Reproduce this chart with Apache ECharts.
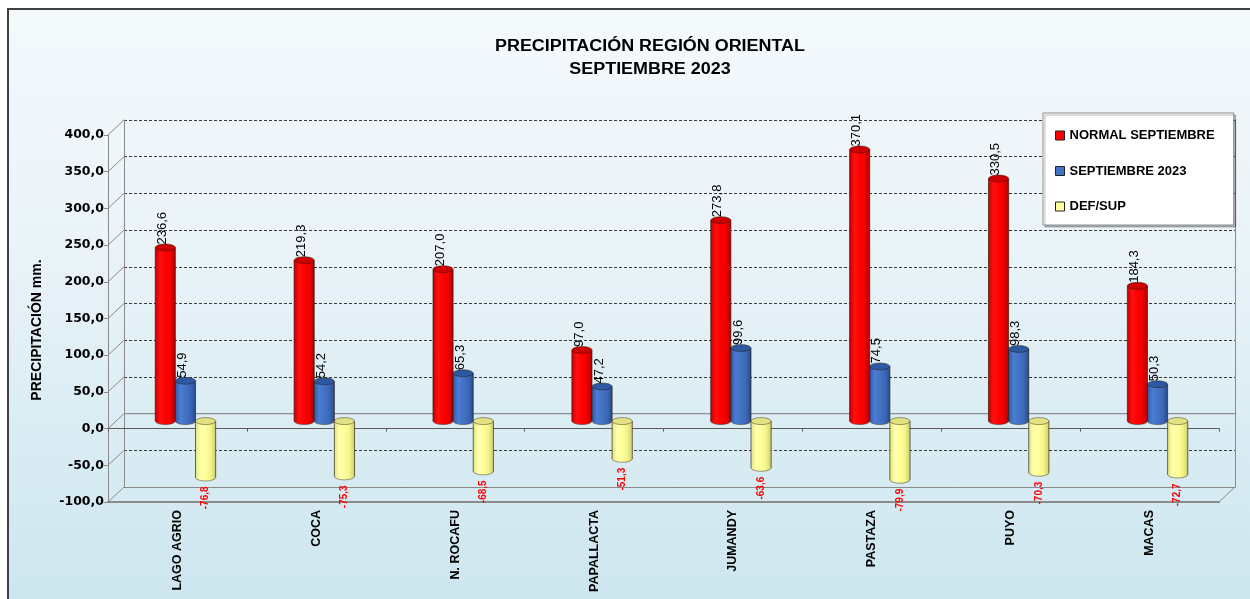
<!DOCTYPE html>
<html>
<head>
<meta charset="utf-8">
<title>Precipitación Región Oriental - Septiembre 2023</title>
<script src="https://cdn.jsdelivr.net/npm/echarts@6/dist/echarts.min.js"></script>
<style>
  html, body { margin: 0; padding: 0; background: #ffffff; overflow: hidden; }
  #panel {
    position: absolute; left: 7px; top: 8px; width: 1260px; height: 610px;
    border-left: 2px solid #404040; border-top: 2px solid #404040;
    background: linear-gradient(to bottom, #f4f9fc 0%, #e9f3f8 40%, #cbe5ee 100%);
  }
  #chart { position: absolute; left: 0; top: 0; width: 1250px; height: 599px; }
</style>
</head>
<body>
<div id="panel"></div>
<div id="chart"></div>
<script>
// ---- data ----
const categories = ['LAGO AGRIO', 'COCA', 'N. ROCAFU', 'PAPALLACTA', 'JUMANDY', 'PASTAZA', 'PUYO', 'MACAS'];
const normalSeptiembre = [236.6, 219.3, 207.0, 97.0, 273.8, 370.1, 330.5, 184.3];
const septiembre2023 = [54.9, 54.2, 65.3, 47.2, 99.6, 74.5, 98.3, 50.3];
const defSup = [-76.8, -75.3, -68.5, -51.3, -63.6, -79.9, -70.3, -72.7];
const seriesNames = ['NORMAL SEPTIEMBRE', 'SEPTIEMBRE 2023', 'DEF/SUP'];
const yMin = -100, yMax = 400, yStep = 50;
const titleLines = ['PRECIPITACIÓN REGIÓN ORIENTAL', 'SEPTIEMBRE 2023'];
const yAxisTitle = 'PRECIPITACIÓN mm.';

// ---- layout / style ----
const FONT = "'Liberation Sans', Arial, sans-serif";
const FRONT = { left: 108, top: 135, width: 1111, height: 367 };
const DEPTH = [16, -15];          // offset of the back wall relative to the front plane
const BAR_FRAC = 0.145;           // cylinder width as a fraction of the category band
const ELLIPSE_RY = 3.5;
const FRAME = '#8a8a8a';
const OUTLINE = 'rgba(40,20,0,0.8)';

function planeGrid(f) {
  return { left: FRONT.left + DEPTH[0] * f, top: FRONT.top + DEPTH[1] * f,
           width: FRONT.width, height: FRONT.height, containLabel: false };
}
const fmt = v => v.toFixed(1).replace('.', ',');
const ticks = [];
for (let v = yMin; v <= yMax; v += yStep) ticks.push(v);

const grad = stops => new echarts.graphic.LinearGradient(0, 0, 1, 0,
  stops.map((c, i) => ({ offset: i / (stops.length - 1), color: c })));

const palettes = [
  { legend: '#ff0000', body: ['#c80000', '#ff1010', '#ff0000', '#f00000', '#b00000'], top: '#cc0000',
    label: { color: '#000', font: `normal 13px ${FONT}` } },
  { legend: '#4472c4', body: ['#2f5ba8', '#4a7dd4', '#4472c4', '#3c68b6', '#284d90'], top: '#2d58a2',
    label: { color: '#000', font: `normal 13px ${FONT}` } },
  { legend: '#ffff99', body: ['#e4e47a', '#ffffb0', '#ffff99', '#f4f48c', '#cfcf6c'], top: '#e2e284',
    label: { color: '#ff0000', font: `bold 10px ${FONT}` } }
];

function cylinderSeries(idx, values) {
  const pal = palettes[idx];
  const k = idx - 1;
  return {
    type: 'custom',
    name: seriesNames[idx],
    xAxisIndex: 3, yAxisIndex: 3,
    z: 5,
    itemStyle: { color: pal.legend },
    data: values.map((v, i) => [i, v]),
    renderItem(params, api) {
      const i = api.value(0), v = api.value(1);
      const band = api.size([1, 0])[0];
      const w = band * BAR_FRAC, rx = w / 2, ry = ELLIPSE_RY;
      const base = api.coord([i, 0]);
      const tip = api.coord([i, v]);
      const cx = base[0] + k * w;
      const yTop = Math.min(base[1], tip[1]);
      const yBot = Math.max(base[1], tip[1]);
      const body = grad(pal.body);
      const lineStyle = { stroke: OUTLINE, lineWidth: 0.8 };
      const children = [
        { type: 'circle', shape: { cx: 0, cy: 0, r: rx }, x: cx, y: yBot, scaleY: ry / rx,
          style: { fill: body, stroke: OUTLINE, lineWidth: 0.8, strokeNoScale: true } },
        { type: 'rect', shape: { x: cx - rx, y: yTop, width: w, height: yBot - yTop }, style: { fill: body } },
        { type: 'line', shape: { x1: cx - rx, y1: yTop, x2: cx - rx, y2: yBot }, style: lineStyle },
        { type: 'line', shape: { x1: cx + rx, y1: yTop, x2: cx + rx, y2: yBot }, style: lineStyle },
        { type: 'circle', shape: { cx: 0, cy: 0, r: rx }, x: cx, y: yTop, scaleY: ry / rx,
          style: { fill: pal.top, stroke: OUTLINE, lineWidth: 0.8, strokeNoScale: true } }
      ];
      if (v >= 0) {
        children.push({ type: 'text', x: cx - 3, y: yTop - 3, rotation: Math.PI / 2,
          style: { text: fmt(v), font: pal.label.font, fill: pal.label.color,
                   align: 'left', verticalAlign: 'middle', textAlign: 'left', textVerticalAlign: 'middle' } });
      } else {
        children.push({ type: 'text', x: cx, y: yBot + 9, rotation: Math.PI / 2,
          style: { text: fmt(v), font: pal.label.font, fill: pal.label.color,
                   align: 'right', verticalAlign: 'middle', textAlign: 'right', textVerticalAlign: 'middle' } });
      }
      return { type: 'group', children };
    }
  };
}

// side wall edges, back zero plane and floor corner of the 3D box
const frameSeries = {
  type: 'custom',
  xAxisIndex: 0, yAxisIndex: 0,
  z: 1, silent: true,
  data: ticks.map(v => [0, v]),
  renderItem(params, api) {
    const cs = params.coordSys;
    const v = api.value(1);
    const y = api.coord([0, v])[1];
    const x0 = cs.x, x1 = cs.x + cs.width;
    const st = { stroke: FRAME, lineWidth: 1 };
    const ch = [{ type: 'line', shape: { x1: x0, y1: y, x2: x0 + DEPTH[0], y2: y + DEPTH[1] }, style: st }];
    if (v === 0) {
      ch.push({ type: 'line', shape: { x1: x0 + DEPTH[0], y1: y + DEPTH[1], x2: x1 + DEPTH[0], y2: y + DEPTH[1] },
                style: { stroke: '#8f8f8f', lineWidth: 1.2 } });
    }
    if (v === yMin) {
      ch.push({ type: 'line', shape: { x1: x1, y1: y, x2: x1 + DEPTH[0], y2: y + DEPTH[1] }, style: st });
    }
    return { type: 'group', children: ch };
  }
};

const valueAxisBase = { type: 'value', min: yMin, max: yMax, interval: yStep };

const option = {
  backgroundColor: 'transparent',
  animation: false,
  grid: [planeGrid(0), planeGrid(1), planeGrid(0.5)],
  graphic: [
    { type: 'text', x: 650, y: 58.5, scaleX: 1.12,
      style: { text: titleLines.join('\n'), font: `bold 16px ${FONT}`, fill: '#000', lineHeight: 23,
               align: 'center', verticalAlign: 'middle', textAlign: 'center', textVerticalAlign: 'middle',
               shadowColor: 'rgba(0,0,0,0.25)', shadowOffsetX: 1, shadowOffsetY: 1, shadowBlur: 1 } },
    { type: 'text', x: 37, y: 330, rotation: Math.PI / 2,
      style: { text: yAxisTitle, font: `bold 14px ${FONT}`, fill: '#000',
               align: 'center', verticalAlign: 'middle', textAlign: 'center', textVerticalAlign: 'middle' } }
  ],
  legend: {
    data: seriesNames, orient: 'vertical', left: 1043, top: 113,
    icon: 'rect', itemWidth: 9, itemHeight: 9, itemGap: 22.5,
    padding: [16, 19, 12, 12], backgroundColor: '#ffffff',
    borderColor: '#8c8c8c', borderWidth: 1,
    shadowColor: 'rgba(0,0,0,0.25)', shadowOffsetX: 2, shadowOffsetY: 2, shadowBlur: 0,
    itemStyle: { borderColor: '#222', borderWidth: 1 },
    textStyle: { fontFamily: FONT, fontWeight: 'bold', fontSize: 13, color: '#000' },
    selectedMode: false
  },
  xAxis: [
    { // front floor edge with station names
      gridIndex: 0, type: 'category', data: categories, position: 'bottom',
      axisLine: { onZero: false, lineStyle: { color: '#8a8a8a', width: 2 } },
      axisTick: { show: false },
      axisLabel: { rotate: 90, margin: 8, fontFamily: FONT, fontWeight: 'bold', fontSize: 12.5, color: '#000' }
    },
    { // front zero line
      gridIndex: 0, type: 'category', data: categories, position: 'top',
      axisLine: { onZero: true, lineStyle: { color: '#5a5a5a', width: 1 } },
      axisTick: { show: true, inside: true, length: 3, lineStyle: { color: '#5a5a5a' } },
      axisLabel: { show: false }
    },
    { // back wall floor edge
      gridIndex: 1, type: 'category', data: categories,
      axisLine: { onZero: false, lineStyle: { color: FRAME, width: 1 } },
      axisTick: { show: false }, axisLabel: { show: false }
    },
    { gridIndex: 2, type: 'category', data: categories, show: false }
  ],
  yAxis: [
    Object.assign({}, valueAxisBase, {
      gridIndex: 0,
      axisLine: { show: true, lineStyle: { color: FRAME, width: 1 } },
      axisTick: { show: true, length: 4, lineStyle: { color: FRAME } },
      splitLine: { show: false },
      axisLabel: { formatter: v => fmt(v), margin: 4, fontFamily: "'DejaVu Sans', sans-serif",
                   fontWeight: 'bold', fontSize: 12.5, color: '#000' }
    }),
    Object.assign({}, valueAxisBase, {
      gridIndex: 1,
      axisLine: { show: true, lineStyle: { color: FRAME, width: 1 } },
      axisTick: { show: false }, axisLabel: { show: false },
      splitLine: { show: true, lineStyle: { color: '#3a3a3a', width: 1, type: [3, 2] } }
    }),
    Object.assign({}, valueAxisBase, {
      gridIndex: 1, position: 'right',
      axisLine: { show: true, lineStyle: { color: FRAME, width: 1 } },
      axisTick: { show: false }, axisLabel: { show: false }, splitLine: { show: false }
    }),
    Object.assign({}, valueAxisBase, { gridIndex: 2, show: false })
  ],
  series: [
    frameSeries,
    cylinderSeries(0, normalSeptiembre),
    cylinderSeries(1, septiembre2023),
    cylinderSeries(2, defSup)
  ]
};

const chart = echarts.init(document.getElementById('chart'), null, { renderer: 'canvas' });
chart.setOption(option);
</script>
</body>
</html>
